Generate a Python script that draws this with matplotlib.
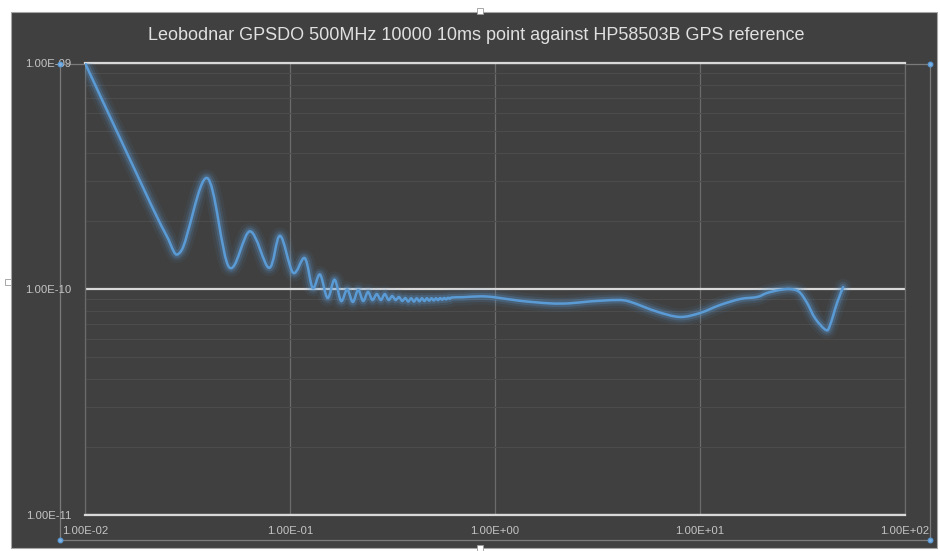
import matplotlib
matplotlib.use('Agg')
import matplotlib.pyplot as plt
from matplotlib.path import Path
from matplotlib.patches import PathPatch, Rectangle
from matplotlib.lines import Line2D
import matplotlib.patheffects as pe
import matplotlib.ticker as mticker
from matplotlib import font_manager
import numpy as np

# ---------------- data ----------------
title = "Leobodnar GPSDO 500MHz 10000 10ms point against HP58503B GPS reference"

tau = [0.01, 0.0156, 0.0246, 0.0294, 0.0394, 0.0504, 0.0638, 0.079, 0.0894, 0.1035,
       0.118, 0.129, 0.140, 0.1525, 0.165, 0.1775, 0.19, 0.2025, 0.215, 0.2275,
       0.24, 0.2525, 0.265, 0.2775, 0.29, 0.3025, 0.315, 0.3275, 0.34, 0.3525,
       0.365, 0.3775, 0.39, 0.4025, 0.415, 0.4275, 0.44, 0.4525, 0.465, 0.4775,
       0.49, 0.5025, 0.515, 0.5275, 0.54, 0.5525, 0.565, 0.5775, 0.59, 0.6025,
       0.615, 0.70, 0.85, 1.0, 1.32, 1.85, 2.3, 2.9, 3.94, 4.56,
       6.17, 7.98, 10.0, 12.5, 15.7, 19.0, 21.2, 24.5, 27.5, 30.5,
       33.3, 36.5, 41.2, 43.1, 46.6, 49.9]
adev = [1.0e-9, 4.21e-10, 1.77e-10, 1.47e-10, 3.10e-10, 1.25e-10, 1.80e-10, 1.24e-10, 1.72e-10, 1.18e-10,
        1.37e-10, 1.01e-10, 1.16e-10, 9.12e-11, 1.10e-10, 8.85e-11, 9.95e-11, 8.76e-11, 9.90e-11, 8.85e-11,
        9.70e-11, 8.94e-11, 9.50e-11, 8.94e-11, 9.50e-11, 8.94e-11, 9.31e-11, 8.94e-11, 9.22e-11, 8.85e-11,
        9.12e-11, 8.80e-11, 9.10e-11, 8.80e-11, 9.10e-11, 8.82e-11, 9.10e-11, 8.85e-11, 9.10e-11, 8.88e-11,
        9.10e-11, 8.90e-11, 9.10e-11, 8.93e-11, 9.12e-11, 8.97e-11, 9.13e-11, 9.00e-11, 9.15e-11, 9.05e-11,
        9.17e-11, 9.20e-11, 9.28e-11, 9.19e-11, 8.87e-11, 8.64e-11, 8.64e-11, 8.81e-11, 8.94e-11, 8.78e-11,
        7.94e-11, 7.52e-11, 7.83e-11, 8.49e-11, 9.03e-11, 9.22e-11, 9.60e-11, 9.90e-11, 1.00e-10, 9.70e-11,
        8.67e-11, 7.40e-11, 6.58e-11, 6.93e-11, 8.67e-11, 1.02e-10]

x_ticks = [1e-2, 1e-1, 1e0, 1e1, 1e2]
y_ticks = [1e-11, 1e-10, 1e-9]

# ---------------- styling ----------------
W, H = 940, 551
BG = '#404040'
LINE = '#5b9bd5'
TXT = '#c4c4c4'

fams = {f.name for f in font_manager.fontManager.ttflist}
FONT = 'Liberation Sans Narrow' if 'Liberation Sans Narrow' in fams else 'Liberation Sans'

fig = plt.figure(figsize=(W / 100, H / 100), dpi=100)
fig.patch.set_facecolor('white')
renderer = fig.canvas.get_renderer()


def fit_size(text, target_px, family, base=10):
    t = fig.text(0, 0, text, fontsize=base, family=family)
    w = t.get_window_extent(renderer).width
    t.remove()
    return base * target_px / w


def px_rect(x0, y0, x1, y1, **kw):
    return Rectangle((x0 / W, 1 - y1 / H), (x1 - x0) / W, (y1 - y0) / H,
                     transform=fig.transFigure, **kw)


# chart area
fig.add_artist(px_rect(11, 12, 937, 548, facecolor=BG, edgecolor='#a6a6a6', lw=0.8, zorder=-10))
# plot-area selection frame
fig.add_artist(px_rect(60, 64, 930, 540, fill=False, edgecolor='#7a7a7a', lw=0.9, zorder=-5))

ax = fig.add_axes([85 / W, 1 - 515 / H, 820 / W, 452 / H])
ax.set_facecolor(BG)
ax.set_xscale('log')
ax.set_yscale('log')
ax.set_xlim(x_ticks[0], x_ticks[-1])
ax.set_ylim(y_ticks[0], y_ticks[-1])

ax.xaxis.set_major_locator(mticker.FixedLocator(x_ticks))
ax.yaxis.set_major_locator(mticker.FixedLocator(y_ticks))
ax.xaxis.set_minor_locator(mticker.NullLocator())
ax.yaxis.set_minor_locator(mticker.LogLocator(base=10, subs=np.arange(2, 10)))
fmt = mticker.FuncFormatter(lambda v, p: f"{v:.2E}")
ax.xaxis.set_major_formatter(fmt)
ax.yaxis.set_major_formatter(fmt)
ax.yaxis.set_minor_formatter(mticker.NullFormatter())

tick_fs = fit_size("1.00E-02", 46, FONT)
ax.tick_params(which='both', length=0)
ax.tick_params(axis='y', pad=10, labelsize=tick_fs, labelcolor=TXT)
ax.tick_params(axis='x', pad=8, labelsize=tick_fs, labelcolor=TXT)
for lab in ax.get_xticklabels() + ax.get_yticklabels():
    lab.set_family(FONT)

ax.yaxis.grid(True, which='minor', color='#4c4c4c', lw=0.8)
ax.yaxis.grid(True, which='major', color='#d9d9d9', lw=1.6)
ax.xaxis.grid(True, which='major', color='#6b6b6b', lw=0.9)
ax.set_axisbelow(True)
for s in ['top', 'bottom']:
    ax.spines[s].set_color('#d9d9d9')
    ax.spines[s].set_linewidth(1.6)
for s in ['left', 'right']:
    ax.spines[s].set_color('#6b6b6b')
    ax.spines[s].set_linewidth(0.9)

# smoothed line (Excel-style smoothing: Catmull-Rom Bezier in log-log space)
P = np.column_stack([np.log10(tau), np.log10(adev)])
n = len(P)
verts = [P[0]]
codes = [Path.MOVETO]
for i in range(n - 1):
    p0 = P[i - 1] if i > 0 else P[i]
    p1 = P[i]
    p2 = P[i + 1]
    p3 = P[i + 2] if i + 2 < n else P[i + 1]
    verts += [p1 + (p2 - p0) / 6.0, p2 - (p3 - p1) / 6.0, p2]
    codes += [Path.CURVE4] * 3
verts = 10 ** np.array(verts)
patch = PathPatch(Path(verts, codes), fill=False, edgecolor=LINE, lw=1.8,
                  transform=ax.transData, zorder=5, capstyle='round', joinstyle='round')
patch.set_path_effects([
    pe.Stroke(linewidth=12, foreground=LINE, alpha=0.07),
    pe.Stroke(linewidth=8, foreground=LINE, alpha=0.13),
    pe.Stroke(linewidth=5, foreground=LINE, alpha=0.25),
    pe.Normal()])
ax.add_patch(patch)

# title
title_fs = fit_size(title, 657, FONT)
fig.text(476 / W, 1 - 36 / H, title, ha='center', va='center', fontsize=title_fs,
         family=FONT, color='#e0e0e0')

# selection handles
fig.add_artist(Line2D([60 / W, 930 / W, 60 / W, 930 / W],
                      [1 - 64 / H, 1 - 64 / H, 1 - 540 / H, 1 - 540 / H],
                      transform=fig.transFigure, marker='o', ms=3.2, ls='none',
                      color='#7fb1e3', mec='#5b9bd5', zorder=20))
fig.add_artist(Line2D([480 / W, 8 / W, 480 / W], [1 - 11 / H, 1 - 282 / H, 1 - 548 / H],
                      transform=fig.transFigure, marker='s', ms=5, ls='none',
                      mfc='white', mec='#9a9a9a', mew=0.6, zorder=20))

fig.savefig('out.png', dpi=100, facecolor='white')
